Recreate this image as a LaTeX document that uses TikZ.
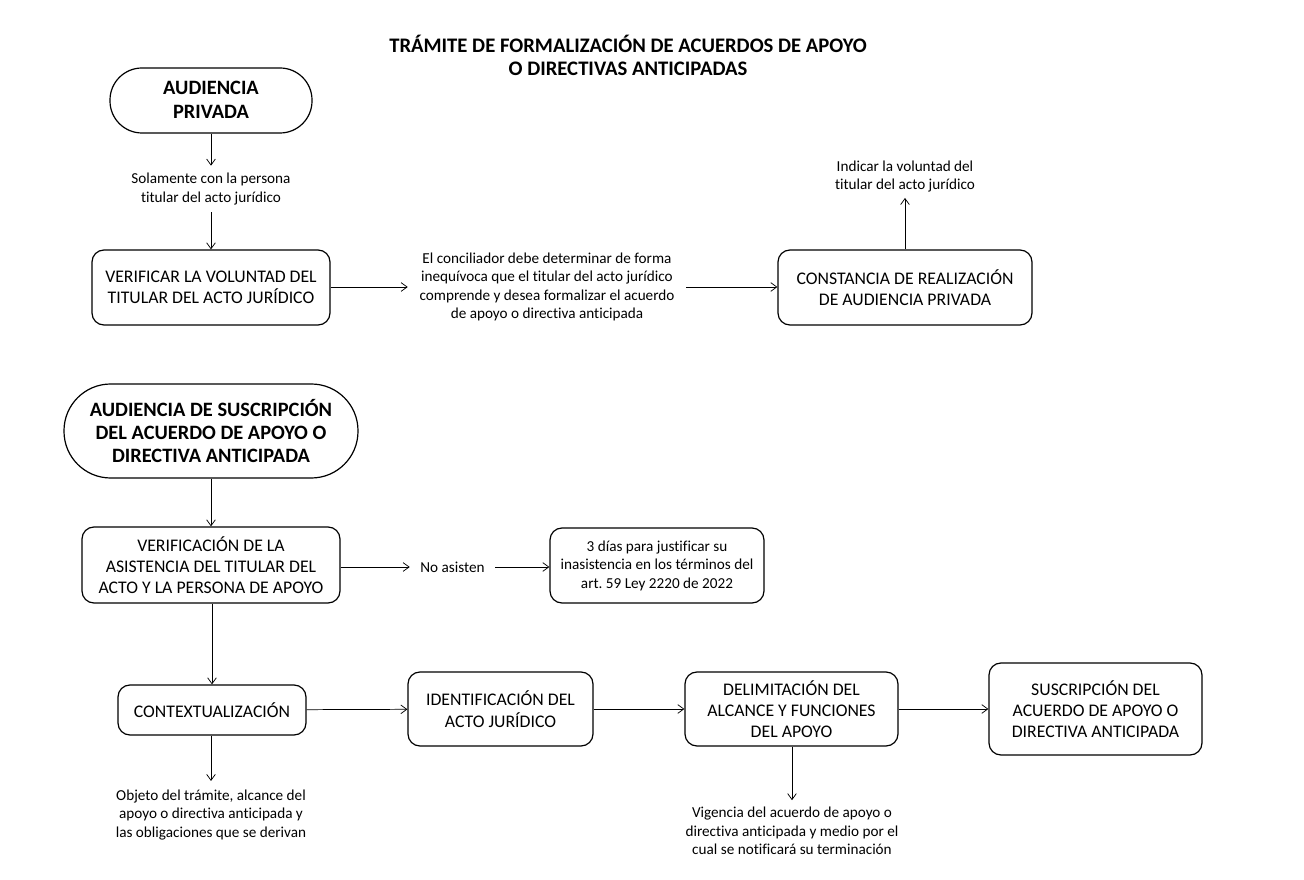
\documentclass[tikz,border=0pt]{standalone}
\usepackage{fontspec}
\setmainfont{Carlito}[Ligatures=NoCommon]
\usetikzlibrary{arrows.meta}
\frenchspacing
\begin{document}
\begin{tikzpicture}[x=0.75pt,y=-0.75pt,
  box/.style={draw,line width=0.9pt,rounded corners=9pt,inner sep=0pt,align=center,
    font=\fontsize{13.3}{16}\selectfont},
  stadium/.style={draw,line width=0.9pt,inner sep=0pt,align=center,
    font=\fontsize{15.3}{17.6}\selectfont\bfseries},
  lbl/.style={align=center,inner xsep=2pt,font=\fontsize{11.4}{13.9}\selectfont},
  conn/.style={line width=0.55pt,-{Straight Barb[length=4.5pt,width=6.5pt]}},
  ttl/.style={align=center,font=\fontsize{15.5}{17.3}\selectfont\bfseries}
]
\useasboundingbox (0,0) rectangle (1304,880);

\node[ttl] (title) at (628,55) {TRÁMITE DE FORMALIZACIÓN DE ACUERDOS DE APOYO\\O DIRECTIVAS ANTICIPADAS};

% top section
\node[stadium,minimum width=151.5pt,minimum height=48.75pt,rounded corners=24pt,text depth=1pt] (ap) at (211,100.5) {AUDIENCIA\\PRIVADA};
\node[lbl,inner ysep=5.4pt] (sol) at (211,189) {Solamente con la persona\\titular del acto jurídico};
\node[box,minimum width=178.5pt,minimum height=56.25pt] (ver) at (211,287.5) {VERIFICAR LA VOLUNTAD DEL\\TITULAR DEL ACTO JURÍDICO};
\node[lbl,minimum width=208.5pt,inner xsep=0pt] (conc) at (547,287) {El conciliador debe determinar de forma\\inequívoca que el titular del acto jurídico\\comprende y desea formalizar el acuerdo\\de apoyo o directiva anticipada};
\node[box,minimum width=190.5pt,minimum height=56.25pt] (cons) at (905,287.5) {CONSTANCIA DE REALIZACIÓN\\DE AUDIENCIA PRIVADA};
\node[lbl,inner ysep=4pt] (ind) at (905,176.5) {Indicar la voluntad del\\titular del acto jurídico};

\draw[conn] (ap) -- (sol);
\draw[conn] (sol) -- (ver);
\draw[conn] (ver.east |- conc.west) -- (conc.west);
\draw[conn] (conc.east) -- (cons.west |- conc.east);
\draw[conn] (cons) -- (ind);

% bottom section
\node[stadium,minimum width=220.5pt,minimum height=70.5pt,rounded corners=35pt] (aus) at (211,431) {AUDIENCIA DE SUSCRIPCIÓN\\DEL ACUERDO DE APOYO O\\DIRECTIVA ANTICIPADA};
\node[box,minimum width=193.5pt,minimum height=57pt] (vasi) at (211,565) {VERIFICACIÓN DE LA\\ASISTENCIA DEL TITULAR DEL\\ACTO Y LA PERSONA DE APOYO};
\node[lbl,minimum width=63.75pt,inner xsep=0pt] (noa) at (452.5,567) {No asisten};
\node[box,minimum width=160.5pt,minimum height=56.25pt,font=\fontsize{11.4}{13.9}\selectfont] (tres) at (657,565.5) {3 días para justificar su\\inasistencia en los términos del\\art. 59 Ley 2220 de 2022};
\node[box,minimum width=141pt,minimum height=37.5pt] (ctx) at (212,710) {CONTEXTUALIZACIÓN};
\node[box,minimum width=138.75pt,minimum height=55.5pt] (ide) at (500.5,709) {IDENTIFICACIÓN DEL\\ACTO JURÍDICO};
\node[box,minimum width=159.75pt,minimum height=55.5pt] (del) at (791.5,709) {DELIMITACIÓN DEL\\ALCANCE Y FUNCIONES\\DEL APOYO};
\node[box,minimum width=159.75pt,minimum height=69pt] (sus) at (1095.5,709) {SUSCRIPCIÓN DEL\\ACUERDO DE APOYO O\\DIRECTIVA ANTICIPADA};
\node[lbl,inner ysep=6.5pt] (obj) at (211,815) {Objeto del trámite, alcance del\\apoyo o directiva anticipada y\\las obligaciones que se derivan};
\node[lbl,inner ysep=5pt] (vig) at (792,831) {Vigencia del acuerdo de apoyo o\\directiva anticipada y medio por el\\cual se notificará su terminación};

\draw[conn] (aus) -- (vasi);
\draw[conn] (vasi.east |- noa.west) -- (noa.west);
\draw[conn] (noa.east) -- (tres.west |- noa.east);
\draw[conn] (vasi.south -| ctx.north) -- (ctx.north);
\draw[conn] (ctx) -- (ide);
\draw[conn] (ide) -- (del);
\draw[conn] (del) -- (sus);
\draw[conn] (ctx.south -| obj.north) -- (obj.north);
\draw[conn] (del.south -| vig.north) -- (vig.north);
\end{tikzpicture}
\end{document}
